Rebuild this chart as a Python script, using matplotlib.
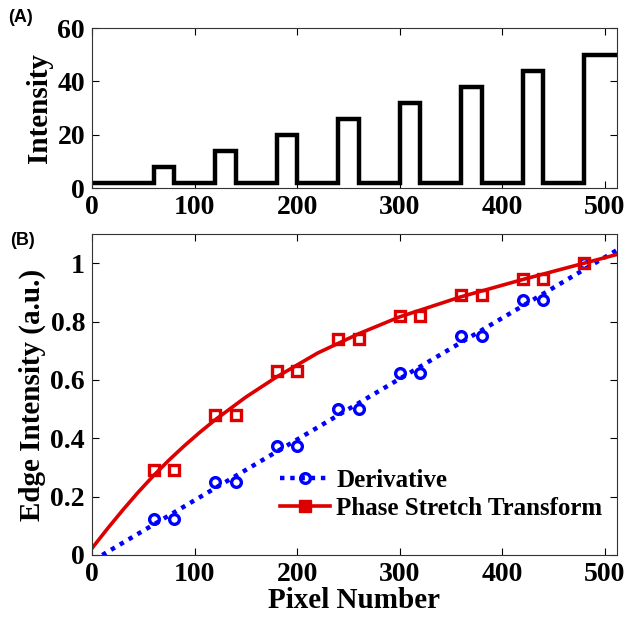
import matplotlib
matplotlib.use('Agg')
import matplotlib.pyplot as plt
from matplotlib.lines import Line2D

# top panel: step profile
edges = [0, 60, 80, 120, 140, 180, 200, 240, 260, 300, 320, 360, 380, 420, 440, 480, 512]
levels = [2, 8, 2, 14, 2, 20, 2, 26, 2, 32, 2, 38, 2, 44, 2, 50]

# bottom panel: edge intensities at each step edge
edge_px = [60, 80, 120, 140, 180, 200, 240, 260, 300, 320, 360, 380, 420, 440, 480]
deriv = [0.125, 0.125, 0.25, 0.25, 0.375, 0.375, 0.5, 0.5, 0.625, 0.625, 0.75, 0.75, 0.875, 0.875, 1.0]
pst = [0.29, 0.29, 0.48, 0.48, 0.63, 0.63, 0.74, 0.74, 0.82, 0.82, 0.89, 0.89, 0.945, 0.945, 1.0]

# fit curves
deriv_fit_x = [10, 512]
deriv_fit_y = [0.0, 1.045]
pst_fit_x = [0, 15, 30, 45, 60, 75, 90, 105, 120, 150, 180, 220, 260, 300, 360, 420, 480, 512]
pst_fit_y = [0.023, 0.09, 0.154, 0.215, 0.272, 0.325, 0.374, 0.42, 0.463, 0.541, 0.61, 0.692,
             0.758, 0.816, 0.885, 0.944, 1.0, 1.03]

serif = 'Liberation Serif'
blue = '#0000ff'
red = '#dd0000'

fig = plt.figure(figsize=(6.28, 6.25), dpi=100)

ax1 = fig.add_axes([92/628, 1-188/625, 525/628, 160/625])
xs = []
ys = []
for i in range(len(levels)):
    xs += [edges[i], edges[i+1]]
    ys += [levels[i], levels[i]]
ax1.plot(xs, ys, color='k', lw=3.2, solid_joinstyle='miter')
ax1.set_xlim(0, 512)
ax1.set_ylim(0, 60)
ax1.set_yticks([0, 20, 40, 60])
ax1.set_xticks([0, 100, 200, 300, 400, 500])
ax1.set_ylabel('Intensity', fontsize=21, fontweight='bold', family=serif, labelpad=3)

ax2 = fig.add_axes([92/628, 1-555/625, 525/628, 321/625])
ax2.plot(deriv_fit_x, deriv_fit_y, color=blue, lw=3.2, ls=(0, (1, 1.3)))
ax2.plot(pst_fit_x, pst_fit_y, color=red, lw=2.6)
ax2.plot(edge_px, deriv, 'o', ms=7, mfc='none', mec=blue, mew=2.4)
ax2.plot(edge_px, pst, 's', ms=6.5, mfc='none', mec=red, mew=2.4)
ax2.set_xlim(0, 512)
ax2.set_ylim(0, 1.1)
ax2.set_xticks([0, 100, 200, 300, 400, 500])
ax2.set_yticks([0, 0.2, 0.4, 0.6, 0.8, 1])
ax2.set_yticklabels(['0', '0.2', '0.4', '0.6', '0.8', '1'])
ax2.set_ylabel('Edge Intensity (a.u.)', fontsize=21, fontweight='bold', family=serif, labelpad=3)
ax2.set_xlabel('Pixel Number', fontsize=21, fontweight='bold', family=serif, labelpad=0)

handles = [
    Line2D([], [], color=blue, lw=3.2, ls=(0, (1, 1.3)), marker='o', ms=7, mfc='none', mec=blue, mew=2.4),
    Line2D([], [], color=red, lw=2.6, marker='s', ms=8, mfc=red, mec=red),
]
ax2.legend(handles, ['Derivative', 'Phase Stretch Transform'], loc='lower right',
           bbox_to_anchor=(1.015, 0.04), frameon=False, handlelength=2.0, handletextpad=0.25,
           labelspacing=0.2, prop={'family': serif, 'weight': 'bold', 'size': 18})

for ax in (ax1, ax2):
    ax.tick_params(direction='in', top=True, right=True, length=5, width=0.8, pad=5)
    for lab in ax.get_xticklabels() + ax.get_yticklabels():
        lab.set_fontfamily(serif)
        lab.set_fontweight('bold')
        lab.set_fontsize(20)
    for s in ax.spines.values():
        s.set_color('#333333')
        s.set_linewidth(0.8)

fig.text(8/628, 1-18/625, '(A)', fontsize=13, fontweight='bold', family='Liberation Sans', va='center')
fig.text(10/628, 1-241/625, '(B)', fontsize=13, fontweight='bold', family='Liberation Sans', va='center')

fig.savefig('out.png', dpi=100)
